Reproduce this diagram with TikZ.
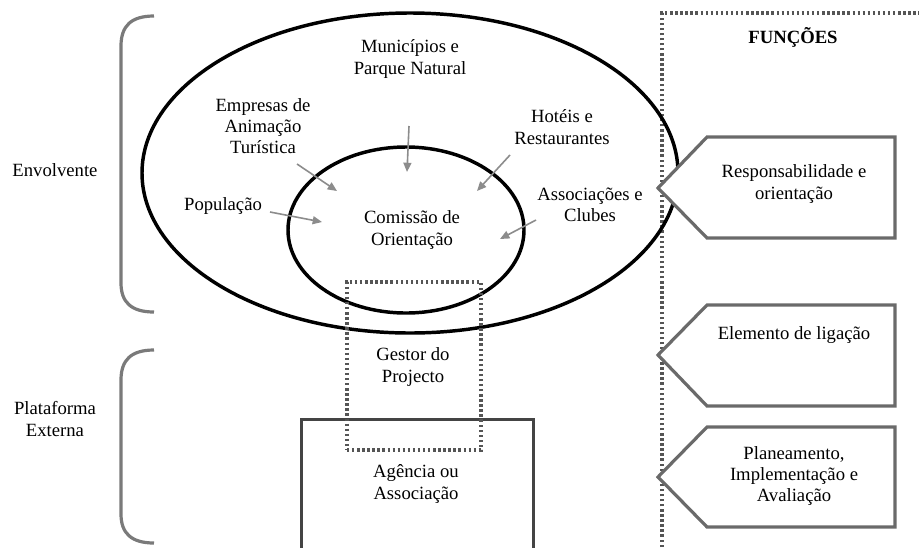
\documentclass[tikz,border=0pt]{standalone}
\usepackage{fontspec}
\setmainfont{Liberation Serif}
\usetikzlibrary{shapes.geometric,arrows.meta}
\definecolor{brk}{HTML}{7A7A7A}
\definecolor{pent}{HTML}{6A6A6A}
\definecolor{dots}{HTML}{555555}
\definecolor{arr}{HTML}{8C8C8C}
\tikzset{
  lbl/.style={font=\fontsize{14}{16}\selectfont, align=center, inner sep=0pt},
  ring/.style={draw=black, line width=2.6pt, ellipse, inner sep=0pt},
  brace/.style={draw=brk, line width=2.4pt},
  penta/.style={draw=pent, line width=2.4pt, line join=miter, fill=white},
  dotline/.style={draw=dots, line width=2.4pt, dash pattern=on 1.8pt off 2pt},
  inarrow/.style={draw=arr, line width=1.2pt, -{Triangle[length=7pt,width=6pt]}},
}
\begin{document}
\begin{tikzpicture}[x=0.75pt,y=-0.75pt]
\useasboundingbox (0,0) rectangle (919,547);
% brackets
\draw[brace] (154,16) .. controls (131,16) and (121,26) .. (121,46) -- (121,283) .. controls (121,302) and (131,312) .. (154,312);
\draw[brace] (154,350) .. controls (131,350) and (121,360) .. (121,380) -- (121,514) .. controls (121,533) and (131,543) .. (154,543);
\node[lbl] (env) at (55,170) {Envolvente};
\node[lbl] (plat) at (55,419) {Plataforma\\Externa};
% functions column
\draw[dotline] (662,547) -- (662,13) -- (919,13);
\node[lbl, font=\fontsize{14}{16}\selectfont\bfseries] (func) at (793,37) {FUNÇÕES};
% ellipses
\node[ring, minimum width=402pt, minimum height=240pt] (outer) at (410,173) {};
\node[ring, minimum width=177pt, minimum height=124.5pt] (inner) at (406,230) {};
% pentagons
\draw[penta] (707,137) -- (895,137) -- (895,238) -- (707,238) -- (658,188) -- cycle;
\draw[penta] (707,305) -- (895,305) -- (895,406) -- (707,406) -- (658,355) -- cycle;
\draw[penta] (707,427) -- (895,427) -- (895,527) -- (707,527) -- (658,477) -- cycle;
\node[lbl] (resp) at (794,184) {Responsabilidade e\\orientação};
\node[lbl] (elem) at (794,335) {Elemento de ligação};
\node[lbl] (plan) at (794,476) {Planeamento,\\Implementação e\\Avaliação};
% Agency and project manager
\node[draw=dots!80!black, line width=2.4pt, minimum width=174pt, minimum height=110pt, anchor=north west, inner sep=0pt] (agencia) at (300,418) {};
\node[lbl] (agtxt) at (416,484) {Agência ou\\Associação};
\node[dotline, minimum width=100.5pt, minimum height=126pt, inner sep=0pt] (gestor) at (414,366) {};
\node[lbl] (gtxt) at (413,367) {Gestor do\\Projecto};
% labels inside
\node[lbl] (com) at (412,230) {Comissão de\\Orientação};
\node[lbl] (mun) at (410,59) {Municípios e\\Parque Natural};
\node[lbl] (emp) at (263,126) {Empresas de\\Animação\\Turística};
\node[lbl] (hot) at (562,127) {Hotéis e\\Restaurantes};
\node[lbl] (pop) at (223,206) {População};
\node[lbl] (ass) at (590,205) {Associações e\\Clubes};
% arrows
\coordinate (munA) at (409,126); \coordinate (munB) at (407,172);
\coordinate (empA) at (297,164); \coordinate (empB) at (337,191);
\coordinate (hotA) at (510,155); \coordinate (hotB) at (477,191);
\coordinate (popA) at (270,212); \coordinate (popB) at (322,222);
\coordinate (assA) at (536,220); \coordinate (assB) at (500,239);
\draw[inarrow] (munA) -- (munB);
\draw[inarrow] (empA) -- (empB);
\draw[inarrow] (hotA) -- (hotB);
\draw[inarrow] (popA) -- (popB);
\draw[inarrow] (assA) -- (assB);
\end{tikzpicture}
\end{document}
